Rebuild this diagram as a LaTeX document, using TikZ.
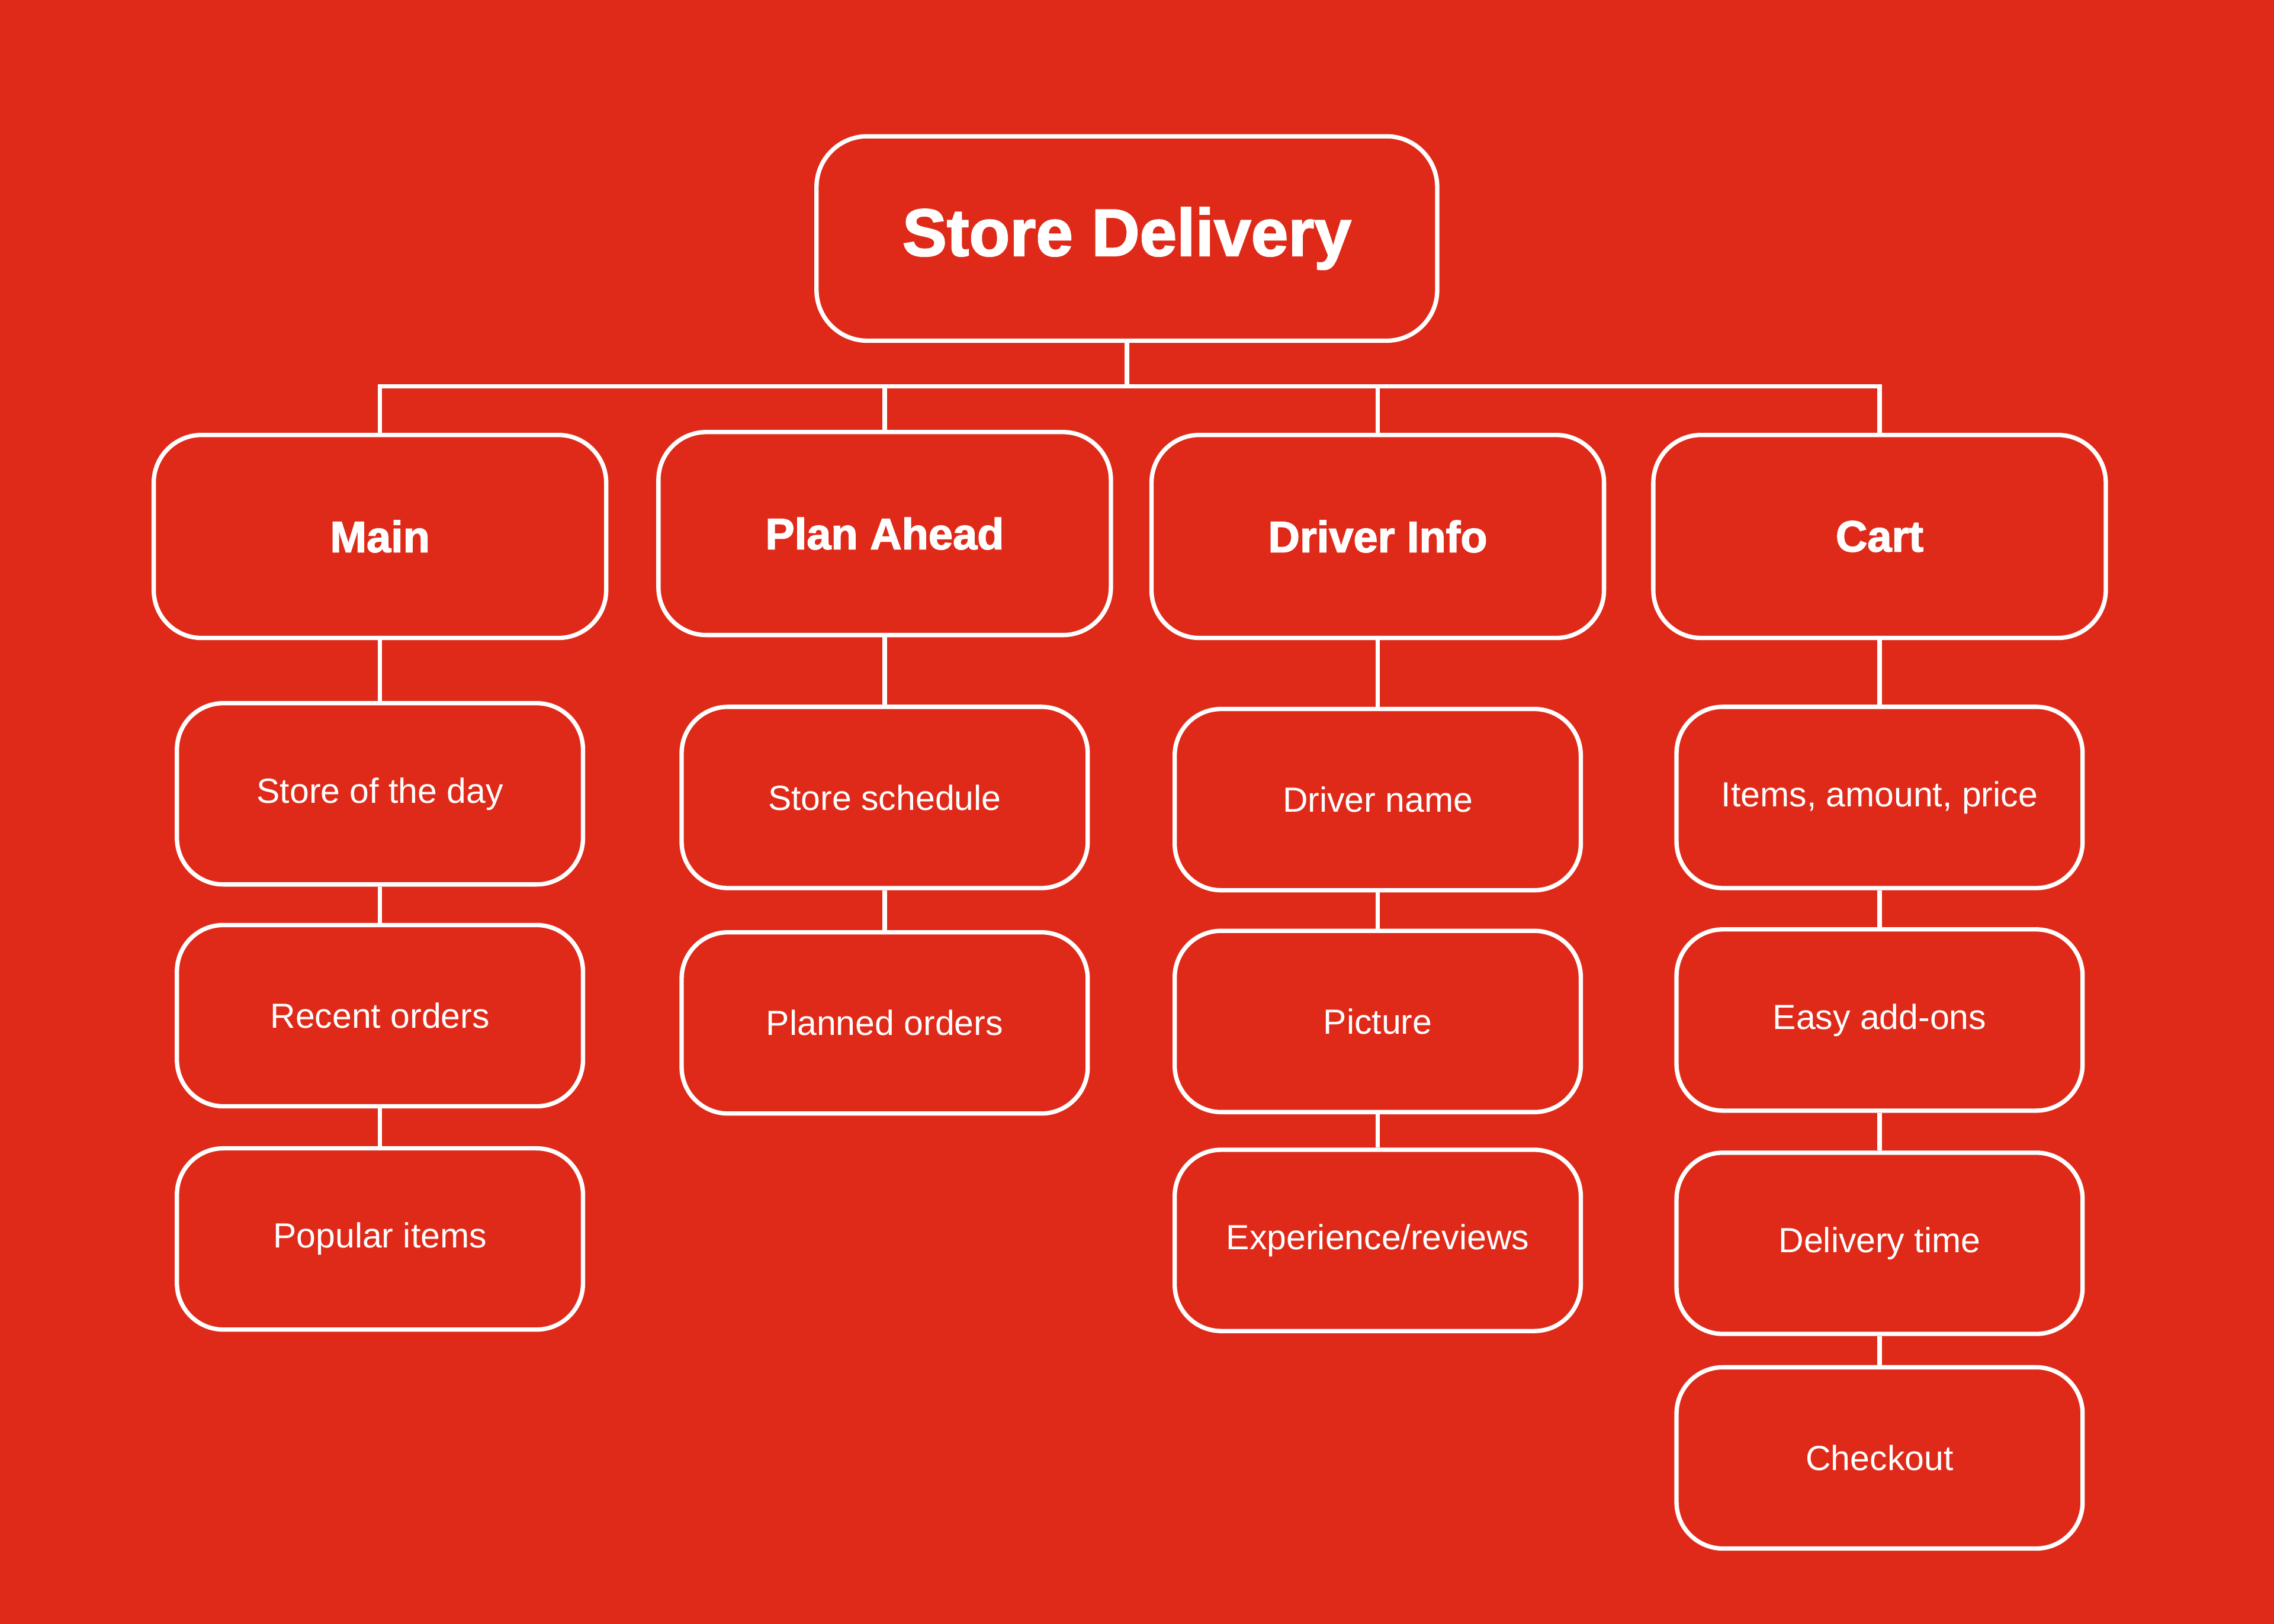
\documentclass[tikz,border=0pt]{standalone}
\usepackage{fontspec}
\setmainfont{Liberation Sans}
\newfontfamily\heavyfont{Liberation Sans Bold}[FakeBold=2]
\usepackage{tikz}
\usetikzlibrary{positioning, calc}
\definecolor{mybg}{RGB}{223,42,25}
\definecolor{myline}{RGB}{255,255,255}
\tikzset{
  rootbox/.style={rectangle, draw=myline, fill=mybg, text=myline,
    minimum width=4.28cm, minimum height=1.41cm, rounded corners=0.35cm,
    font=\heavyfont\fontsize{13.1}{15}\selectfont, line width=0.85pt},
  headbox/.style={rectangle, draw=myline, fill=mybg, text=myline,
    minimum width=3.12cm, minimum height=1.40cm, rounded corners=0.33cm,
    font=\heavyfont\fontsize{8.6}{10}\selectfont, line width=0.85pt},
  itembox/.style={rectangle, draw=myline, fill=mybg, text=myline,
    minimum width=2.80cm, minimum height=1.25cm, rounded corners=0.32cm,
    font=\fontsize{6.85}{9}\selectfont, line width=0.85pt},
  link/.style={draw=myline, line width=0.85pt}
}
\begin{document}
\begin{tikzpicture}
  \fill[mybg] (0,0) rectangle (15.68,11.20);
  \node[rootbox] (root) at (7.77,9.555) {Store Delivery};

  \node[headbox] (main) at (2.62,7.50) {Main};
  \node[headbox] (plan) at (6.10,7.52) {Plan Ahead};
  \node[headbox] (driver) at (9.50,7.50) {Driver Info};
  \node[headbox] (cart) at (12.96,7.50) {Cart};

  \node[itembox] (sotd) at (2.62,5.725) {Store of the day};
  \node[itembox] (recent) at (2.62,4.195) {Recent orders};
  \node[itembox] (popular) at (2.62,2.655) {Popular items};

  \node[itembox] (schedule) at (6.10,5.70) {Store schedule};
  \node[itembox] (planned) at (6.10,4.145) {Planned orders};

  \node[itembox] (dname) at (9.50,5.685) {Driver name};
  \node[itembox] (picture) at (9.50,4.155) {Picture};
  \node[itembox] (reviews) at (9.50,2.645) {Experience/reviews};

  \node[itembox] (items) at (12.96,5.70) {Items, amount, price};
  \node[itembox] (addons) at (12.96,4.165) {Easy add-ons};
  \node[itembox] (dtime) at (12.96,2.625) {Delivery time};
  \node[itembox] (checkout) at (12.96,1.145) {Checkout};

  % tree connectors
  \draw[link] (root.south) -- ++(0,-0.30) coordinate (bus);
  \draw[link] (main.north) |- (bus) -| (cart.north);
  \draw[link] (plan.north) -- (plan.north |- bus);
  \draw[link] (driver.north) -- (driver.north |- bus);

  \draw[link] (main) -- (sotd) (sotd) -- (recent) (recent) -- (popular);
  \draw[link] (plan) -- (schedule) (schedule) -- (planned);
  \draw[link] (driver) -- (dname) (dname) -- (picture) (picture) -- (reviews);
  \draw[link] (cart) -- (items) (items) -- (addons) (addons) -- (dtime) (dtime) -- (checkout);
\end{tikzpicture}
\end{document}
